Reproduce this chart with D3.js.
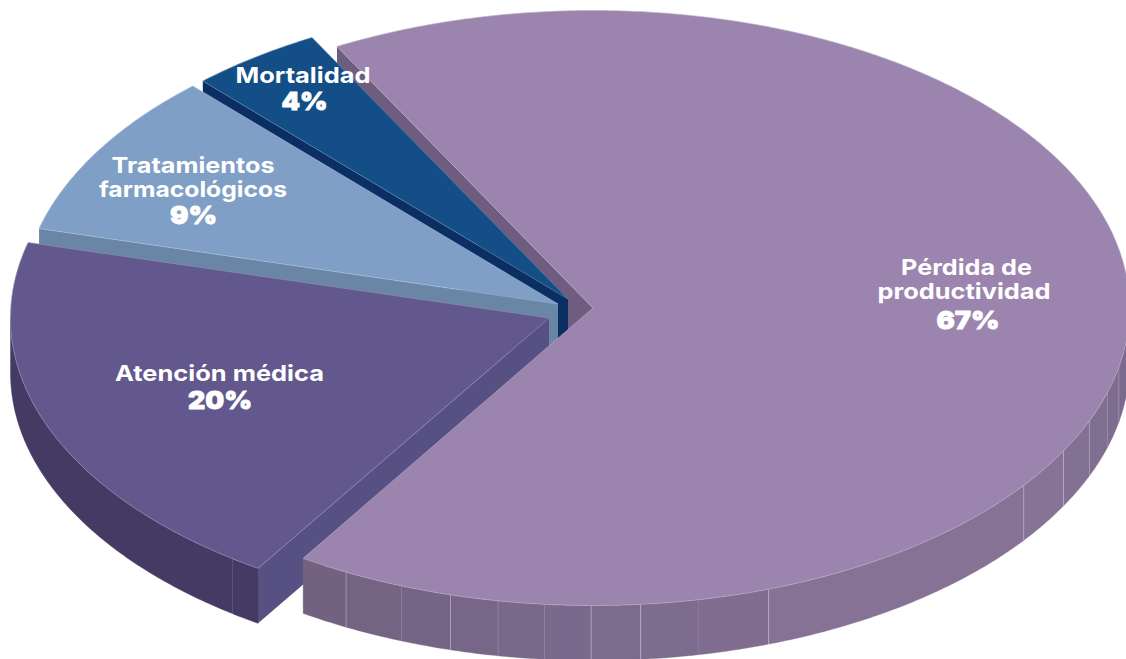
<!DOCTYPE html>
<html lang="es">
<head>
<meta charset="utf-8">
<title>Costos</title>
<script src="https://cdn.jsdelivr.net/npm/d3@7/dist/d3.min.js"></script>
<style>
html,body{margin:0;padding:0;background:#fff;overflow:hidden}
svg{display:block}
text{font-family:Inter,"Open Sans",sans-serif;fill:#fff;text-anchor:middle}
.name{font-size:22px;font-weight:700}
.pct{font-size:25px;font-weight:900;stroke:#fff;stroke-width:0.8px}
</style>
</head>
<body>
<svg id="chart" width="1126" height="659"></svg>
<script>
// ---- data ----
const categories = ["Pérdida de productividad", "Atención médica", "Tratamientos farmacológicos", "Mortalidad"];
const values = [67, 20, 9, 4];
const percentLabels = ["67%", "20%", "9%", "4%"];
const labelLines = [["Pérdida de", "productividad"], ["Atención médica"], ["Tratamientos", "farmacológicos"], ["Mortalidad"]];
const purpleSeamAngles = [207.4, 200.9, 195.4, 190.2, 185.2, 180.2, 174.9, 168.7, 160.9, 126.6, 118.7, 112.3, 106.5, 101.4];
const purpleSeamStrength = [0.3, 0.08, 0.3, 0.2, 0.08, 0.35, 0.4, 0.06, 0.35, 0.3, 0.35, 0.25, 0.12, 0.2];
const atencionSeamAngles = [216];

// ---- layout ----
const radiiX = [536.5, 538.5, 536.5, 536.5], ry = 297.5, depth = 55;
const startDeg = -28.5;
const apexes = [[593, 308], [549, 318], [558, 304], [568, 299]];
const topColors = ["#9b84ad", "#62588d", "#7f9fc6", "#134e86"];
const innerWallColors = ["#6f5d7f", "#575082", "#6a86a6", "#0c2f63"];
const outerWallColors = ["#7c6a8e", "#453a64", "#6a86a6", "#0c2f63"];
const labelAnchors = [
  {xs: [966.5, 964], ys: [275, 299], px: 968, py: 329, widths: [131, 173], pw: 63},
  {xs: [219.5], ys: [381], px: 220, py: 409, widths: [209], pw: 64},
  {xs: [193], ys: [173, 197], px: 193.5, py: 224, widths: [163, 188], pw: 47},
  {xs: [303], ys: [83], px: 304.5, py: 110, widths: [135], pw: 46}
];
const EDGE = "rgba(255,255,255,0.3)";

const svg = d3.select("#chart");
const rad = d => d * Math.PI / 180;

const pie = d3.pie().sort(null).value(d => d)
  .startAngle(rad(startDeg)).endAngle(rad(startDeg + 360));
const arcs = pie(values);

const sx = i => d3.scaleLinear().domain([-1, 1]).range([apexes[i][0] - radiiX[i], apexes[i][0] + radiiX[i]]);
const sy = i => d3.scaleLinear().domain([-1, 1]).range([apexes[i][1] - ry, apexes[i][1] + ry]);
const rim = (i, t, dy = 0) => [sx(i)(Math.sin(t)), sy(i)(-Math.cos(t)) + dy];
const sample = (a, b) => {
  const n = Math.max(2, Math.ceil(Math.abs(b - a) / rad(0.5)));
  return d3.range(n + 1).map(k => a + (b - a) * k / n);
};
const line = d3.line();

function topFace(i) {
  const d = arcs[i];
  const pts = [apexes[i], ...sample(d.startAngle, d.endAngle).map(t => rim(i, t))];
  svg.append("path").attr("d", line(pts) + "Z").attr("fill", topColors[i])
    .attr("stroke", topColors[i]).attr("stroke-width", 0.5);
  // thin light edge like the original
  svg.append("path").attr("d", line(pts) + "Z").attr("fill", "none")
    .attr("stroke", EDGE).attr("stroke-width", 0.7);
}
function radialWall(i, t) {
  const a = apexes[i], r = rim(i, t);
  const pts = [a, r, [r[0], r[1] + depth], [a[0], a[1] + depth]];
  svg.append("path").attr("d", line(pts) + "Z").attr("fill", innerWallColors[i]);
}
function outerBand(i, a, b, fill) {
  const s = sample(a, b);
  const pts = [...s.map(t => rim(i, t)), ...s.slice().reverse().map(t => rim(i, t, depth))];
  svg.append("path").attr("d", line(pts) + "Z").attr("fill", fill).attr("stroke", fill).attr("stroke-width", 0.4);
}
function seam(i, t, strength) {
  const p = rim(i, t);
  svg.append("line").attr("x1", p[0]).attr("x2", p[0]).attr("y1", p[1]).attr("y2", p[1] + depth)
    .attr("stroke", `rgba(255,255,255,${strength})`).attr("stroke-width", 1);
}

const purpleWallColor = d3.scaleLinear()
  .domain([212.7, 180, 130, 100, 90])
  .range(["#72607f", "#7c6a8e", "#887596", "#7e6c90", "#7a688c"]);

// back to front
radialWall(0, arcs[0].startAngle);
radialWall(3, arcs[3].startAngle);
topFace(3);
radialWall(2, arcs[2].startAngle);
topFace(2);

// Atención: outer rim, radial wall, top
radialWall(1, arcs[1].startAngle);
outerBand(1, arcs[1].startAngle, rad(270), outerWallColors[1]);
atencionSeamAngles.forEach(a => seam(1, rad(a), 0.12));
topFace(1);

// Pérdida de productividad: outer rim in segments, top
const endDeg = arcs[0].endAngle * 180 / Math.PI;
const bounds = [endDeg, ...purpleSeamAngles, 90];
d3.pairs(bounds).forEach(([a, b]) => outerBand(0, rad(a), rad(b), purpleWallColor((a + b) / 2)));
purpleSeamAngles.forEach((a, k) => seam(0, rad(a), purpleSeamStrength[k]));
topFace(0);

// labels
labelAnchors.forEach((l, i) => {
  labelLines[i].forEach((txt, k) => {
    svg.append("text").attr("class", "name").attr("x", l.xs[k] ?? l.xs[0]).attr("y", l.ys[k])
      .attr("textLength", l.widths[k]).attr("lengthAdjust", "spacingAndGlyphs").text(txt);
  });
  svg.append("text").attr("class", "pct").attr("x", l.px).attr("y", l.py)
    .attr("textLength", l.pw).attr("lengthAdjust", "spacingAndGlyphs").text(percentLabels[i]);
});
</script>
</body>
</html>
